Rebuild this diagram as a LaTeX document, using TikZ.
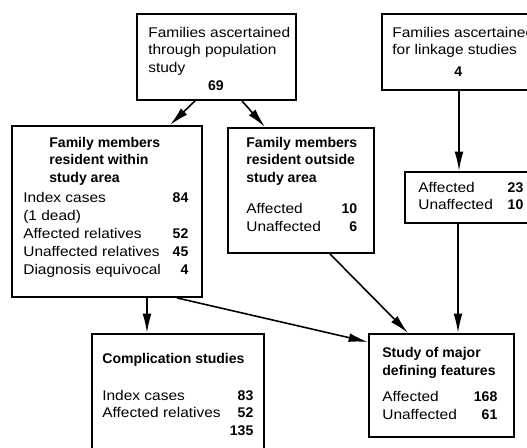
\documentclass[tikz,border=0pt]{standalone}
\usepackage{fontspec}
\setmainfont{Liberation Sans}[UprightFeatures={FakeStretch=1.1}]
\usetikzlibrary{arrows.meta,calc}
\newdimen\pix \pix=0.02cm

\begin{document}
\begin{tikzpicture}[x=0.02cm, y=-0.02cm,
    box/.style ={draw, line width=1.1pt, anchor=north west, inner sep=0pt},
    txt/.style ={anchor=base west, inner sep=0pt, font=\fontsize{8}{10.24}\selectfont},
    flow/.style={line width=0.9pt, -{Latex[length=11pt,width=5pt]}}]
   \useasboundingbox (0,0) rectangle (527,447);
   % boxes
   \node[box, minimum width=159\pix, minimum height=86\pix]  (pop)     at (136,13)  {};
   \node[box, minimum width=170\pix, minimum height=76\pix]  (link)    at (381,13)  {};
   \node[box, minimum width=190\pix, minimum height=171\pix] (within)  at (11,125)  {};
   \node[box, minimum width=146\pix, minimum height=125\pix] (outside) at (227,127) {};
   \node[box, minimum width=150\pix, minimum height=51\pix]  (linkres) at (404,171) {};
   \node[box, minimum width=172\pix, minimum height=150\pix] (compl)   at (91,333)  {};
   \node[box, minimum width=145\pix, minimum height=103\pix] (major)   at (368,333) {};
   % texts
   \node[txt] (popt) at (148,37) {\begin{tabular}[t]{@{}l@{}}
      Families ascertained\\ through population\\ study\\
      \makebox[135\pix]{\bfseries 69}\end{tabular}};
   \node[txt] (linkt) at (392,37) {\begin{tabular}[t]{@{}l@{}}
      Families ascertained\\ for linkage studies\\[4\pix]
      \makebox[132\pix]{\bfseries 4}\end{tabular}};
   \node[txt] (withint) at (23,147) {\begin{tabular*}{165\pix}[t]{@{}l@{\extracolsep{\fill}}r@{}}
      \multicolumn{2}{@{}l@{}}{\hspace{26\pix}\bfseries Family members}\\
      \multicolumn{2}{@{}l@{}}{\hspace{26\pix}\bfseries resident within}\\
      \multicolumn{2}{@{}l@{}}{\hspace{26\pix}\bfseries study area}\\[2\pix]
      Index cases & \bfseries 84\\
      (1 dead) & \\
      Affected relatives & \bfseries 52\\
      Unaffected relatives & \bfseries 45\\
      Diagnosis equivocal & \bfseries 4\end{tabular*}};
   \node[txt] (outsidet) at (246,147) {\begin{tabular*}{102\pix}[t]{@{}l@{\extracolsep{\fill}}r@{}}
      \multicolumn{2}{@{}l@{}}{\bfseries Family members}\\
      \multicolumn{2}{@{}l@{}}{\bfseries resident outside}\\
      \multicolumn{2}{@{}l@{}}{\bfseries study area}\\[13\pix]
      Affected & \bfseries 10\\
      Unaffected & \bfseries 6\end{tabular*}};
   \node[txt] (linkrest) at (418,192) {\begin{tabular*}{105\pix}[t]{@{}l@{\extracolsep{\fill}}r@{}}
      Affected & \bfseries 23\\
      Unaffected & \bfseries 10\end{tabular*}};
   \node[txt] (complt) at (102,363) {\begin{tabular*}{151\pix}[t]{@{}l@{\extracolsep{\fill}}r@{}}
      \multicolumn{2}{@{}l@{}}{\bfseries Complication studies}\\[19\pix]
      Index cases & \bfseries 83\\
      Affected relatives & \bfseries 52\\
      & \bfseries 135\end{tabular*}};
   \node[txt] (majort) at (382,357) {\begin{tabular*}{115\pix}[t]{@{}l@{\extracolsep{\fill}}r@{}}
      \multicolumn{2}{@{}l@{}}{\bfseries Study of major}\\
      \multicolumn{2}{@{}l@{}}{\bfseries defining features}\\[9\pix]
      Affected & \bfseries 168\\
      Unaffected & \bfseries 61\end{tabular*}};
   % arrows
   \draw[flow] ($(pop.south west)+(59,0)$) -- ($(within.north west)+(159,0)$);
   \draw[flow] ($(pop.south west)+(106,0)$) -- ($(outside.north west)+(38,0)$);
   \draw[flow] ($(link.south west)+(78,0)$) -- ($(linkres.north west)+(55,0)$);
   \draw[flow] ($(linkres.south west)+(54,0)$) -- ($(major.north west)+(90,0)$);
   \draw[flow] ($(outside.south west)+(103,0)$) -- ($(major.north west)+(40,0)$);
   \draw[flow] ($(within.south west)+(166,0)$) -- ($(major.north west)+(0,9)$);
   \draw[flow] ($(within.south west)+(136,0)$) -- ($(compl.north west)+(56,0)$);
\end{tikzpicture}
\end{document}
